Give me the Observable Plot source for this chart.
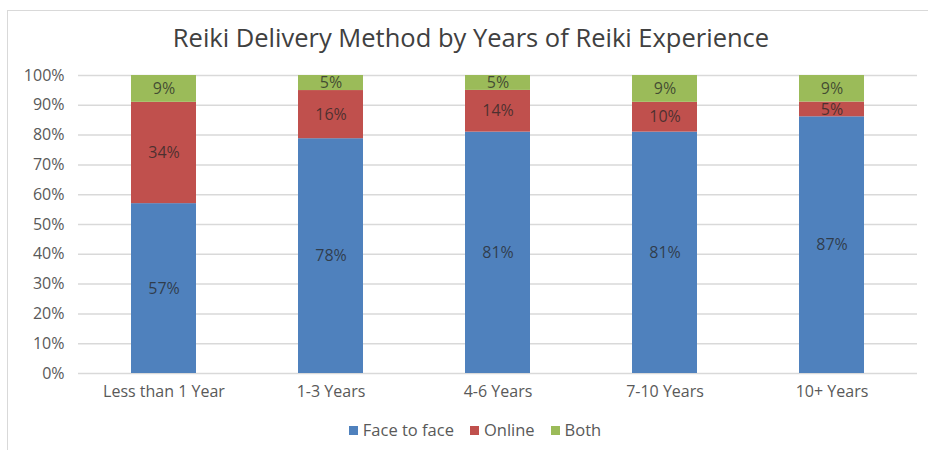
<!DOCTYPE html>
<html>
<head>
<meta charset="utf-8">
<script src="https://cdn.jsdelivr.net/npm/d3@7"></script>
<script src="https://cdn.jsdelivr.net/npm/@observablehq/plot@0.6"></script>
<style>
  body { margin: 0; background: #fff; font-family: "Open Sans", "Noto Sans", sans-serif; }
  #wrap { position: relative; width: 928px; height: 450px; overflow: hidden; }
  #frame { position: absolute; left: 7px; top: 10px; width: 940px; height: 460px;
           border-left: 1px solid #d9d9d9; border-top: 1px solid #d9d9d9; pointer-events: none; }
  #title { position: absolute; left: 7px; width: 928px; top: 21px; text-align: center;
           font-size: 25.5px; line-height: 32px; color: #404040; }
  #chart { position: absolute; left: 0; top: 60px; }
  #legend { position: absolute; left: 7px; width: 936px; top: 418px; text-align: center;
            font-size: 16.5px; color: #595959; line-height: 24px; }
  #legend span.item { margin: 0 8px; white-space: nowrap; }
  #legend span.sw { display: inline-block; width: 9px; height: 9px; margin-right: 5px; vertical-align: 1px; }
</style>
</head>
<body>
<div id="wrap">
  <div id="frame"></div>
  <div id="title">Reiki Delivery Method by Years of Reiki Experience</div>
  <div id="chart"></div>
  <div id="legend"></div>
</div>
<script>
const categories = ["Less than 1 Year", "1-3 Years", "4-6 Years", "7-10 Years", "10+ Years"];
const seriesNames = ["Face to face", "Online", "Both"];
const faceToFace = [57, 78, 81, 81, 87];
const online = [34, 16, 14, 10, 5];
const both = [9, 5, 5, 9, 9];
const colors = ["#4F81BD", "#C0504D", "#9BBB59"];
const yTicks = [0, 0.1, 0.2, 0.3, 0.4, 0.5, 0.6, 0.7, 0.8, 0.9, 1];

const seriesValues = [faceToFace, online, both];
const data = [];
seriesNames.forEach((s, si) => {
  categories.forEach((c, ci) => {
    data.push({ category: c, series: s, value: seriesValues[si][ci] });
  });
});

const chart = Plot.plot({
  width: 928,
  height: 350,
  marginLeft: 78,
  marginRight: 11,
  marginTop: 15,
  marginBottom: 37,
  style: { fontFamily: "'Open Sans', 'Noto Sans', sans-serif", fontSize: "16px", color: "#595959", background: "transparent" },
  x: { domain: categories, label: null, paddingInner: 0.61, paddingOuter: 0.305, tickSize: 0, tickPadding: 12 },
  y: { domain: [0, 1], label: null, ticks: yTicks, tickFormat: d => Math.round(d * 100) + "%", tickSize: 0, tickPadding: 14 },
  color: { domain: seriesNames, range: colors },
  marks: [
    Plot.gridY(yTicks, { stroke: "#d9d9d9", strokeOpacity: 1, strokeWidth: 1.5 }),
    Plot.barY(data, { x: "category", y: "value", fill: "series", offset: "normalize", order: seriesNames }),
    Plot.text(data, Plot.stackY({ x: "category", y: "value", z: "series", offset: "normalize", order: seriesNames,
      text: d => d.value + "%", fill: "#262626", fillOpacity: 0.75, fontSize: 16 })),
    Plot.axisY({ ticks: yTicks, tickFormat: d => Math.round(d * 100) + "%", tickSize: 0, tickPadding: 14, label: null, fill: "#595959", fontSize: 16 }),
    Plot.axisX({ tickSize: 0, tickPadding: 12, label: null, fill: "#595959", fontSize: 16 })
  ]
});
document.getElementById("chart").appendChild(chart);

const legend = document.getElementById("legend");
seriesNames.forEach((s, i) => {
  const item = document.createElement("span");
  item.className = "item";
  const sw = document.createElement("span");
  sw.className = "sw";
  sw.style.background = colors[i];
  item.appendChild(sw);
  item.appendChild(document.createTextNode(s));
  legend.appendChild(item);
});
</script>
</body>
</html>
